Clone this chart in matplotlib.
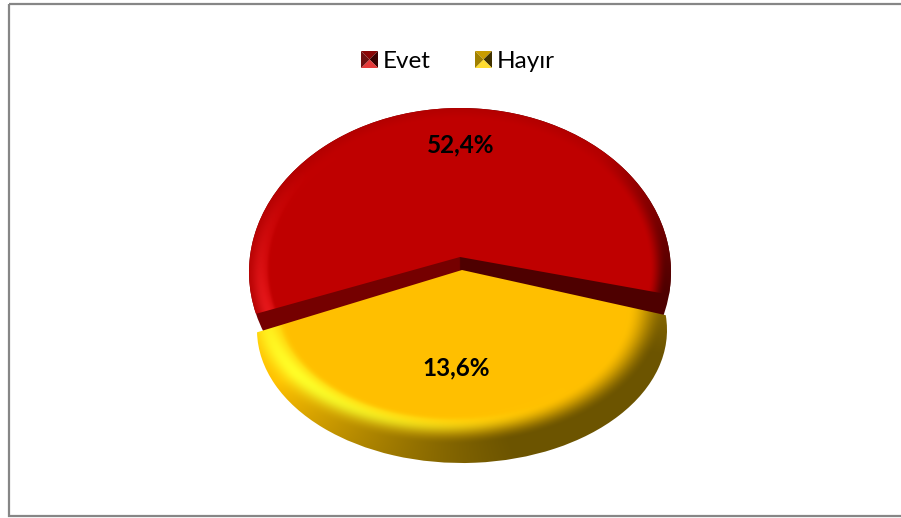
#!/usr/bin/env python3
"""Bevelled two-slice pie with tilted perspective, Evet / Hayir."""
import matplotlib
matplotlib.use("Agg")
import matplotlib.pyplot as plt
import numpy as np
from matplotlib.patches import PathPatch, Polygon, Rectangle
from matplotlib.path import Path

plt.rcParams["font.family"] = ["Lato", "DejaVu Sans"]

# data
legend_labels = ["Evet", "Hay\u0131r"]
value_labels = ["52,4%", "13,6%"]
red_top_share = [56.3, 43.7]      # visible top face of the red slice
red_wall_share = [60.6, 39.4]     # same slice with its side wall
yellow_share = [51.5, 48.5]

W, H = 901, 518
RED = np.array([192, 0, 0]) / 255
YEL = np.array([255, 192, 0]) / 255


def warped(wedge, cx, cy, a, b, apex_up):
    """Wedge from ax.pie -> path on the tilted ellipse, apex moved up by apex_up."""
    p = wedge.get_path()
    v = wedge.get_patch_transform().transform(p.vertices)
    r = np.minimum(np.hypot(v[:, 0], v[:, 1]), 1.0)
    out = np.column_stack([cx + a * v[:, 0], cy - b * v[:, 1] - apex_up * (1 - r)])
    return Path(out, p.codes)


def bevel(cx, cy, a, b, base, hi, lo, rim, shift, peak, width, edge_dark=0.0,
          xshift=0, stretch=1.0):
    yy, xx = np.mgrid[0:H * 2, 0:W * 2]
    xx = xx / 2.0 + 0.25
    yy = yy / 2.0 + 0.25
    dx = (xx - (cx - xshift)) / a
    dy = (yy - (cy - shift)) / b
    rho = np.hypot(dx, dy)
    t = np.clip((rho - rim) / ((1 - rim) * stretch), 0, 1)
    n = np.dstack([dx, dy]) / np.maximum(rho, 1e-6)[..., None]
    nx, ny = n[..., 0], n[..., 1]
    # highlight sits lower left, shade goes bottom and right
    w_hi = np.clip(-0.75 * nx + 0.65 * ny, 0, 1) ** 2 * np.exp(-((t - peak) / width) ** 2)
    w_hi = w_hi * np.clip(t / 0.15, 0, 1)  # keep the flat face clean
    shade = np.clip(0.15 + 0.65 * nx + 0.7 * ny, edge_dark, 1)
    s = np.clip((t - 0.15) / 0.75, 0, 1)
    w_lo = shade * s * s * (3 - 2 * s)
    img = np.ones((H * 2, W * 2, 3)) * base
    img = img * (1 - w_hi[..., None]) + hi * w_hi[..., None]
    img = img * (1 - w_lo[..., None]) + lo * w_lo[..., None]
    return img


def swatch(ax, x, y, s, cols):
    c = (x + s / 2, y + s / 2)
    corners = [(x, y), (x + s, y), (x + s, y + s), (x, y + s)]
    for i, col in enumerate(cols):
        ax.add_patch(Polygon([corners[i], corners[(i + 1) % 4], c], closed=True,
                             facecolor=col, edgecolor="none"))


fig = plt.figure(figsize=(W / 100, H / 100), dpi=100)
ax = fig.add_axes([0, 0, 1, 1])

# pie() gives the wedges, they get re-projected right after
wall_w, _ = ax.pie(red_wall_share, startangle=-16.5, counterclock=True)
top_w, _ = ax.pie(red_top_share, startangle=-7.9, counterclock=True)
yel_w, _ = ax.pie(yellow_share, startangle=181.0, counterclock=True)
wall_path = warped(wall_w[0], 460, 272, 211, 164, -6)
top_path = warped(top_w[0], 460, 272, 211, 164, 15)
yel_path = warped(yel_w[0], 462, 330, 205, 133, 60)
for w in list(wall_w) + list(top_w) + list(yel_w):
    w.remove()
ax.set_aspect("auto")

ext = (0, W, H, 0)
red_img = bevel(460, 272, 211, 164, RED, np.array([244, 30, 34]) / 255,
                np.array([64, 0, 0]) / 255, rim=0.89, shift=3, peak=0.45, width=0.4,
                edge_dark=0.1, xshift=2)
wall_img = np.ones_like(red_img) * (np.array([118, 0, 0]) / 255)
wall_img[:, 920:] = np.array([78, 0, 0]) / 255
yel_img = bevel(462, 330, 205, 133, YEL, np.array([255, 255, 40]) / 255,
                np.array([108, 84, 0]) / 255, rim=0.82, shift=24, peak=0.38, width=0.28,
                xshift=10, stretch=1.35)

for path, img, z in [(wall_path, wall_img, 2), (top_path, red_img, 3), (yel_path, yel_img, 4)]:
    patch = PathPatch(path, facecolor="none", edgecolor="none", zorder=z)
    ax.add_patch(patch)
    im = ax.imshow(img, extent=ext, aspect="auto", zorder=z, interpolation="bilinear")
    im.set_clip_path(patch)

ax.text(461, 145, value_labels[0], ha="center", va="center", fontsize=17.5,
        fontweight="bold", color="black", zorder=6)
ax.text(456, 368, value_labels[1], ha="center", va="center", fontsize=17.5,
        fontweight="bold", color="black", zorder=6)

# legend
swatch(ax, 361, 51, 17, ["#8a0606", "#3a0000", "#e63a3a", "#701010"])
swatch(ax, 475, 51, 17, ["#c89c00", "#403200", "#ffdc30", "#a08000"])
ax.text(383, 61, legend_labels[0], ha="left", va="center", fontsize=17.5, color="black")
ax.text(497, 61, legend_labels[1], ha="left", va="center", fontsize=17.5, color="black")

# chart frame, right side runs off the picture
ax.add_patch(Rectangle((9, 3.5), 905, 512.5, facecolor="none", edgecolor="#868686",
                       linewidth=1.6, zorder=1))

ax.set_xlim(0, W)
ax.set_ylim(H, 0)
ax.set_axis_off()
fig.savefig("out.png", dpi=100, facecolor="white")
